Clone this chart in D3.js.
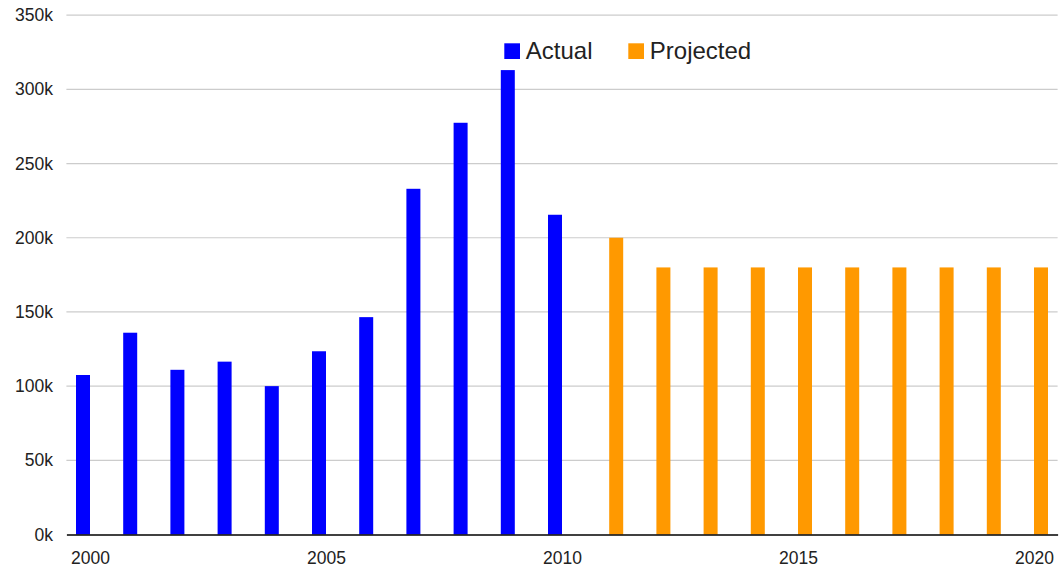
<!DOCTYPE html>
<html>
<head>
<meta charset="utf-8">
<script src="https://cdn.jsdelivr.net/npm/d3@7"></script>
<style>
  body { margin: 0; background: #fff; }
  svg { display: block; font-family: "Liberation Sans", Arial, sans-serif; }
</style>
</head>
<body>
<div id="chart"></div>
<script>
// values
var actualYears = [2000, 2001, 2002, 2003, 2004, 2005, 2006, 2007, 2008, 2009, 2010];
var actualValues = [107500, 136000, 111000, 116500, 100000, 123500, 146500, 233000, 277500, 313000, 215500];
var projectedYears = [2011, 2012, 2013, 2014, 2015, 2016, 2017, 2018, 2019, 2020];
var projectedValues = [200000, 180000, 180000, 180000, 180000, 180000, 180000, 180000, 180000, 180000];
var seriesNames = ["Actual", "Projected"];
var seriesColors = ["#0000ff", "#ff9900"];
var yTicks = [0, 50000, 100000, 150000, 200000, 250000, 300000, 350000];
var xTicks = [2000, 2005, 2010, 2015, 2020];

var width = 1062, height = 570;

var svg = d3.select("#chart")
	.append("svg")
	.attr("width", width)
	.attr("height", height);

var x = d3.scaleLinear().domain([1999.5, 2020.5]).range([66.4, 1057.6]);
var y = d3.scaleLinear().domain([0, 350000]).range([534.5, 15.2]);
// two slots per year, actual on the left, projected on the right
var slot = d3.scaleBand().domain(seriesNames).range([-14, 14]);

// gridlines
svg.append("g")
	.selectAll("line")
	.data(yTicks.slice(1))
	.enter().append("line")
	.attr("x1", x.range()[0])
	.attr("x2", x.range()[1])
	.attr("y1", function(d) { return y(d); })
	.attr("y2", function(d) { return y(d); })
	.style("stroke", "#cccccc")
	.style("stroke-width", 1.2);

// y axis labels
var yAxis = svg.append("g")
	.attr("transform", "translate(" + x.range()[0] + ",0)")
	.call(d3.axisLeft(y).tickValues(yTicks).tickSize(0).tickPadding(13.5)
		.tickFormat(function(d) { return (d / 1000) + "k"; }));
yAxis.select(".domain").remove();
yAxis.selectAll("text").style("font-size", "17.5px").style("fill", "#222");

// bars
var series = [
	{ name: "Actual", years: actualYears, values: actualValues },
	{ name: "Projected", years: projectedYears, values: projectedValues }
];

series.forEach(function(s, i) {
	svg.append("g")
		.selectAll("rect")
		.data(s.years.map(function(yr, j) { return { year: yr, value: s.values[j] }; }))
		.enter().append("rect")
		.attr("x", function(d) { return x(d.year) + slot(s.name); })
		.attr("y", function(d) { return y(d.value); })
		.attr("width", slot.bandwidth())
		.attr("height", function(d) { return y(0) - y(d.value); })
		.style("fill", seriesColors[i]);
});

// x axis
var xAxis = svg.append("g")
	.attr("transform", "translate(0," + y(0) + ")")
	.call(d3.axisBottom(x).tickValues(xTicks).tickSize(0).tickPadding(17)
		.tickFormat(d3.format("d")));
xAxis.select(".domain").style("stroke", "#000").style("stroke-width", 1.5);
xAxis.selectAll("text").style("font-size", "17.5px").style("fill", "#222");

// legend
var legendX = [504.3, 628.3];
var legend = svg.append("g")
	.selectAll("g")
	.data(seriesNames)
	.enter().append("g")
	.attr("transform", function(d, i) { return "translate(" + legendX[i] + ",43.3)"; });

legend.append("rect")
	.attr("width", 15.7)
	.attr("height", 15.7)
	.style("fill", function(d, i) { return seriesColors[i]; });

legend.append("text")
	.attr("x", 21.5)
	.attr("y", 15.4)
	.style("font-size", "24px")
	.style("fill", "#222")
	.text(function(d) { return d; });
</script>
</body>
</html>
